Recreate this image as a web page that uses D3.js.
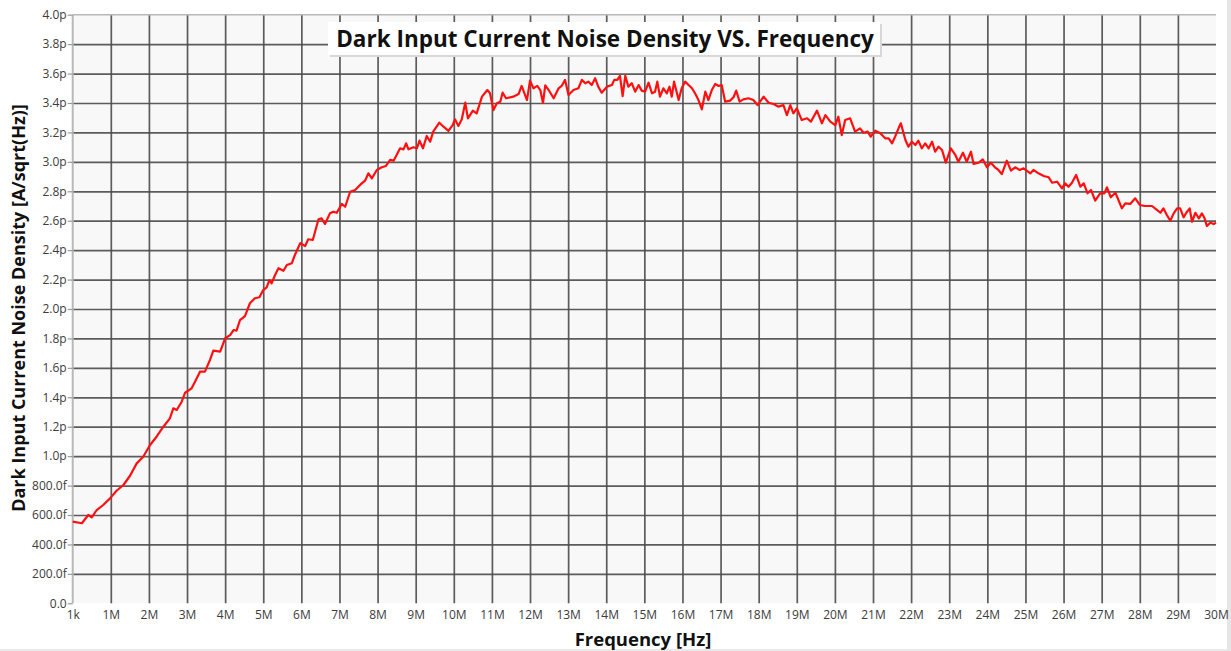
<!DOCTYPE html>
<html>
<head>
<meta charset="utf-8">
<script src="https://cdn.jsdelivr.net/npm/d3@7"></script>
<style>
html,body{margin:0;padding:0;background:#fff;}
svg{display:block;}
</style>
</head>
<body>
<svg id="chart" width="1231" height="651"></svg>
<script>
// Frequency in MHz
const freqMHz = [0.00,0.24,0.41,0.50,0.63,0.80,0.98,1.15,1.33,1.50,1.68,1.85,2.03,2.20,2.38,2.55,2.64,2.73,2.86,2.95,
3.12,3.21,3.34,3.47,3.60,3.69,3.87,4.00,4.13,4.22,4.30,4.39,4.52,4.65,4.78,4.90,5.00,5.09,5.16,5.22,
5.31,5.40,5.53,5.62,5.75,5.83,5.97,6.10,6.18,6.30,6.45,6.53,6.62,6.75,6.84,6.93,7.06,7.15,7.28,7.41,
7.54,7.67,7.76,7.85,7.98,8.11,8.22,8.33,8.42,8.50,8.59,8.68,8.75,8.81,8.94,9.03,9.10,9.19,9.29,9.38,
9.46,9.62,9.73,9.86,9.97,10.03,10.12,10.21,10.30,10.37,10.50,10.60,10.74,10.88,10.95,11.04,11.13,11.22,11.28,11.37,
11.56,11.70,11.78,11.92,12.00,12.09,12.19,12.27,12.34,12.40,12.49,12.62,12.75,12.83,12.92,13.01,13.14,13.27,13.36,13.45,
13.53,13.62,13.71,13.79,13.88,14.02,14.15,14.21,14.29,14.36,14.43,14.50,14.58,14.67,14.76,14.85,14.93,15.02,15.11,15.20,
15.28,15.34,15.41,15.50,15.59,15.66,15.72,15.78,15.90,15.98,16.07,16.16,16.25,16.33,16.42,16.51,16.60,16.68,16.77,16.86,
16.95,17.03,17.12,17.25,17.34,17.41,17.50,17.60,17.73,17.86,17.97,18.13,18.26,18.39,18.52,18.65,18.74,18.83,18.91,19.00,
19.13,19.27,19.37,19.53,19.66,19.75,19.88,20.01,20.09,20.18,20.27,20.40,20.53,20.66,20.75,20.86,20.94,21.06,21.19,21.32,
21.41,21.50,21.58,21.67,21.73,21.85,21.93,22.02,22.11,22.19,22.28,22.37,22.46,22.55,22.63,22.72,22.81,22.91,23.04,23.16,
23.24,23.36,23.46,23.57,23.64,23.77,23.88,23.99,24.09,24.20,24.29,24.38,24.51,24.62,24.73,24.85,24.95,25.13,25.21,25.34,
25.48,25.61,25.70,25.83,25.96,26.04,26.13,26.22,26.33,26.44,26.53,26.63,26.72,26.83,26.96,27.07,27.14,27.24,27.36,27.44,
27.53,27.62,27.75,27.88,28.00,28.13,28.32,28.45,28.54,28.62,28.71,28.80,28.89,28.98,29.06,29.15,29.22,29.31,29.37,29.46,
29.55,29.63,29.70,29.76,29.85,29.94,30.00];

// Noise density in pA/sqrt(Hz)
const noisePA = [0.555,0.544,0.600,0.584,0.634,0.668,0.713,0.765,0.804,0.865,0.951,0.996,1.076,1.132,1.200,1.257,1.325,1.314,1.370,1.431,
1.461,1.506,1.574,1.574,1.653,1.717,1.710,1.801,1.823,1.857,1.853,1.925,1.952,2.039,2.073,2.080,2.129,2.147,2.197,2.175,
2.231,2.277,2.260,2.299,2.311,2.367,2.447,2.428,2.474,2.469,2.610,2.616,2.578,2.650,2.661,2.654,2.714,2.695,2.797,2.809,
2.843,2.872,2.922,2.888,2.945,2.963,2.972,3.013,3.008,3.047,3.092,3.085,3.126,3.085,3.099,3.092,3.144,3.092,3.176,3.137,
3.205,3.266,3.239,3.210,3.250,3.289,3.244,3.289,3.402,3.296,3.348,3.330,3.443,3.488,3.466,3.352,3.398,3.409,3.470,3.432,
3.443,3.461,3.516,3.420,3.552,3.500,3.516,3.488,3.400,3.520,3.488,3.432,3.500,3.516,3.557,3.454,3.488,3.500,3.557,3.534,
3.545,3.522,3.568,3.511,3.470,3.511,3.522,3.557,3.557,3.584,3.447,3.584,3.511,3.534,3.477,3.522,3.484,3.477,3.538,3.466,
3.477,3.545,3.443,3.500,3.466,3.511,3.443,3.545,3.420,3.500,3.545,3.522,3.500,3.466,3.420,3.357,3.477,3.420,3.488,3.529,
3.516,3.522,3.409,3.416,3.439,3.484,3.409,3.425,3.432,3.420,3.386,3.443,3.402,3.393,3.375,3.386,3.318,3.386,3.330,3.364,
3.284,3.296,3.273,3.348,3.262,3.318,3.273,3.250,3.307,3.182,3.284,3.296,3.205,3.228,3.198,3.205,3.171,3.212,3.194,3.160,
3.160,3.126,3.171,3.228,3.262,3.149,3.103,3.137,3.114,3.144,3.092,3.126,3.092,3.137,3.069,3.103,3.081,2.994,3.092,3.047,
3.001,3.062,3.001,3.069,2.986,2.994,3.017,2.963,2.994,2.963,2.945,2.917,3.008,2.940,2.963,2.945,2.956,2.922,2.945,2.922,
2.904,2.895,2.858,2.865,2.820,2.854,2.831,2.858,2.911,2.831,2.854,2.786,2.809,2.736,2.786,2.786,2.827,2.759,2.790,2.741,
2.684,2.718,2.714,2.752,2.707,2.700,2.700,2.673,2.654,2.684,2.639,2.600,2.650,2.684,2.684,2.623,2.654,2.684,2.593,2.654,
2.616,2.650,2.616,2.564,2.586,2.578,2.586];

const xTickValues = [0.001,1,2,3,4,5,6,7,8,9,10,11,12,13,14,15,16,17,18,19,20,21,22,23,24,25,26,27,28,29,30];
const xTickLabels = ["1k","1M","2M","3M","4M","5M","6M","7M","8M","9M","10M","11M","12M","13M","14M","15M","16M","17M","18M","19M","20M","21M","22M","23M","24M","25M","26M","27M","28M","29M","30M"];
const yTickValues = [0,0.2,0.4,0.6,0.8,1.0,1.2,1.4,1.6,1.8,2.0,2.2,2.4,2.6,2.8,3.0,3.2,3.4,3.6,3.8,4.0];
const yTickLabels = ["0.0","200.0f","400.0f","600.0f","800.0f","1.0p","1.2p","1.4p","1.6p","1.8p","2.0p","2.2p","2.4p","2.6p","2.8p","3.0p","3.2p","3.4p","3.6p","3.8p","4.0p"];

const titleText = "Dark Input Current Noise Density VS. Frequency";
const xTitle = "Frequency [Hz]";
const yTitle = "Dark Input Current Noise Density [A/sqrt(Hz)]";

const svg = d3.select("#chart");
const L = 72.7, R = 1216, T = 14.7, B = 603.3;
const x = d3.scaleLinear().domain([0, 30]).range([L, R]);
const y = d3.scaleLinear().domain([0, 4]).range([B, T]);
const FONT = "'Open Sans', 'Noto Sans', sans-serif";

// outer borders
svg.append("line").attr("x1", 0).attr("x2", 1231).attr("y1", 650).attr("y2", 650)
  .attr("stroke", "#e2e2e2").attr("stroke-width", 1.5);
svg.append("rect").attr("x", 1227).attr("y", 0).attr("width", 4).attr("height", 651).attr("fill", "#e6e6e6");

// plot background
svg.append("rect").attr("x", L).attr("y", T).attr("width", R - L).attr("height", B - T)
  .attr("fill", "#f8f8f8");

// grid
const gx = svg.append("g").attr("transform", `translate(0,${B})`)
  .call(d3.axisBottom(x).tickValues(xTickValues.filter(v => v >= 1 && v < 30)).tickSize(-(B - T)).tickFormat(""));
gx.select(".domain").remove();
gx.selectAll(".tick line").attr("stroke", "#4a4a4a").attr("stroke-width", 1.7).attr("stroke-opacity", 0.9);

const gy = svg.append("g").attr("transform", `translate(${L},0)`)
  .call(d3.axisLeft(y).tickValues(yTickValues.filter(v => v > 0 && v < 4)).tickSize(-(R - L)).tickFormat(""));
gy.select(".domain").remove();
gy.selectAll(".tick line").attr("stroke", "#4a4a4a").attr("stroke-width", 1.7).attr("stroke-opacity", 0.9);

// frame lines (light)
svg.append("line").attr("x1", L).attr("x2", R).attr("y1", T).attr("y2", T).attr("stroke", "#b8b8b8").attr("stroke-width", 1.5);
svg.append("line").attr("x1", L).attr("x2", L).attr("y1", T).attr("y2", B).attr("stroke", "#b8b8b8").attr("stroke-width", 2);

// y axis labels
const yAxis = svg.append("g").attr("transform", `translate(${L},0)`)
  .call(d3.axisLeft(y).tickValues(yTickValues).tickSize(5).tickPadding(1)
    .tickFormat((d, i) => yTickLabels[i]));
yAxis.select(".domain").remove();
yAxis.selectAll(".tick line").attr("stroke", "#999").attr("stroke-width", 1.2);
yAxis.selectAll(".tick text").attr("font-family", FONT).attr("font-size", 12).attr("fill", "#3c3c3c");

// x axis labels
const xAxis = svg.append("g").attr("transform", `translate(0,${B})`)
  .call(d3.axisBottom(x).tickValues(xTickValues).tickSize(0).tickPadding(7)
    .tickFormat((d, i) => xTickLabels[i]));
xAxis.select(".domain").remove();
xAxis.selectAll(".tick text").attr("font-family", FONT).attr("font-size", 12).attr("fill", "#3c3c3c");

// data line
const pts = freqMHz.map((f, i) => [f, noisePA[i]]);
svg.append("path").datum(pts)
  .attr("fill", "none").attr("stroke", "#ff1010").attr("stroke-width", 2.2)
  .attr("stroke-linejoin", "round")
  .attr("d", d3.line().x(d => x(d[0])).y(d => y(d[1])));

// title box
const tg = svg.append("g");
tg.append("rect").attr("x", 330).attr("y", 24).attr("width", 552).attr("height", 33).attr("fill", "#d8d8d8");
tg.append("rect").attr("x", 328).attr("y", 22).attr("width", 552).attr("height", 33).attr("fill", "#ffffff");
tg.append("text").attr("x", 605).attr("y", 47).attr("text-anchor", "middle")
  .attr("font-family", FONT).attr("font-weight", "bold").attr("font-size", 22.5).attr("fill", "#111")
  .text(titleText);

// axis titles
svg.append("text").attr("x", 643).attr("y", 646).attr("text-anchor", "middle")
  .attr("font-family", FONT).attr("font-weight", "bold").attr("font-size", 18.5).attr("fill", "#111")
  .text(xTitle);
svg.append("text").attr("transform", "translate(25,308) rotate(-90)").attr("text-anchor", "middle")
  .attr("font-family", FONT).attr("font-weight", "bold").attr("font-size", 18).attr("fill", "#111")
  .text(yTitle);
</script>
</body>
</html>
